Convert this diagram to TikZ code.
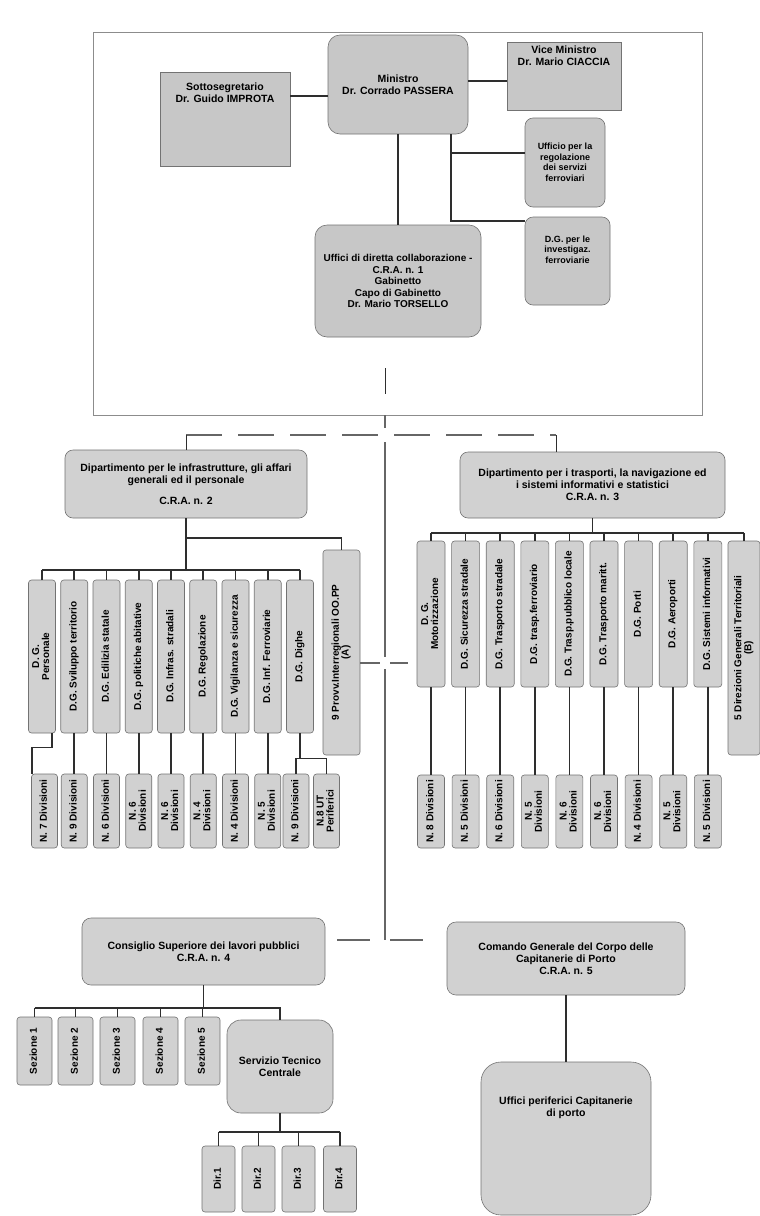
\documentclass[tikz,border=0pt]{standalone}
\usepackage{fontspec}
\setmainfont{Liberation Sans}
\usepackage{graphicx}
\usetikzlibrary{positioning}
\definecolor{boxgray}{gray}{0.82}
\definecolor{topgray}{gray}{0.78}
\definecolor{edgegray}{gray}{0.45}
\definecolor{linegray}{gray}{0.18}
\newcommand{\vt}[1]{\rotatebox{90}{\renewcommand{\arraystretch}{0.85}\begin{tabular}{@{}c@{}}#1\end{tabular}}}

\begin{document}
\begin{tikzpicture}[x=1pt, y=-1pt,
    every node/.style={font=\bfseries\fontsize{10.5}{12}\selectfont, align=center, inner sep=1pt},
    smalltxt/.style={font=\bfseries\fontsize{9}{10.5}\selectfont},
    vtxt/.style={font=\bfseries\fontsize{10}{10.5}\selectfont},
    box/.style={draw=edgegray, fill=boxgray, line width=0.6pt},
    sqbox/.style={box, fill=topgray},
    rbox/.style={box, rounded corners=3pt},
    bigbox/.style={box, rounded corners=#1},
    wh/.style 2 args={minimum width=#1, minimum height=#2},
    link/.style={draw=linegray, line width=1.6pt},
    tick/.style={draw=linegray, line width=0.8pt},
    gapline/.style={draw=black!60, line width=1.1pt}]
  \useasboundingbox (0,0) rectangle (760,1216);
  \fill[white] (0,0) rectangle (760,1216);

  % ministero
  \node[draw=black!45, line width=0.5pt, wh={609}{383}] (frame) at (397.5,223.5) {};
  \node[bigbox=12pt, fill=topgray, wh={140}{99}] (mini) at (398,84.5) {Ministro\\Dr. Corrado PASSERA};
  \node[sqbox, wh={130}{94}] (sotto) at (225,119) {};
  \node[below=10pt of sotto.north] (sotto-t) {Sottosegretario\\Dr. Guido IMPROTA};
  \node[sqbox, wh={114}{68}] (vice) at (564,76) {};
  \node[below=3pt of vice.north] (vice-t) {Vice Ministro\\Dr. Mario CIACCIA};
  \node[bigbox=8pt, fill=topgray, wh={80}{89}, smalltxt] (uff) at (565,162.5) {Ufficio per la\\regolazione\\dei servizi\\ferroviari};
  \node[bigbox=8pt, fill=topgray, wh={85}{88}] (inv) at (567.5,261) {};
  \node[below=18pt of inv.north, smalltxt] (inv-t) {D.G. per le\\investigaz.\\ferroviarie};
  \node[bigbox=12pt, fill=topgray, wh={166}{112}, font=\bfseries\fontsize{10}{11.5}\selectfont] (udc) at (398,281) {Uffici di diretta collaborazione -\\C.R.A. n. 1\\Gabinetto\\Capo di Gabinetto\\Dr. Mario TORSELLO};

  \draw[link] (sotto.east |- 0,96) -- (mini.west |- 0,96);
  \draw[link] (mini.east |- 0,81) -- (vice.west |- 0,81);
  \draw[link] (mini.south) -- (udc.north);
  \coordinate (mj) at (mini.south -| 451,0);
  \draw[link] (mj) |- ([yshift=-4pt]inv.north west);
  \draw[link] (mj |- 0,153) -- (uff.west |- 0,153);
  \draw[tick] (385,368) -- (385,394);

  % dipartimenti
  \node[bigbox=8pt, wh={242}{68}] (dinf) at (186,484) {Dipartimento per le infrastrutture, gli affari\\generali ed il personale\\[9pt]C.R.A. n. 2};
  \node[bigbox=8pt, wh={265}{66}] (dtra) at (592.5,485) {Dipartimento per i trasporti, la navigazione ed\\i sistemi informativi e statistici\\C.R.A. n. 3};

  \coordinate (dl) at (dinf.north |- 0,435);
  \coordinate (dr) at (556,435);
  \draw[gapline, dash pattern=on 36pt off 16pt] (dl) -- (dr);
  \draw[tick] (dl) -- (dinf.north);
  \draw[tick] (dr) -- (dr |- dtra.north);
  \coordinate (vc) at (frame.south -| 385,0);
  \draw[gapline] (vc) -- (385,428) (385,442) -- (385,657) (385,669) -- (385,940);

  % direzioni generali, C.R.A. n. 2
  \node[rbox, vtxt, wh={37}{205}] (prov) at (341.5,652.5) {\vt{9 Provv.Interregionali OO.PP\\(A)}};
  \foreach \i/\t in {1/{D. G.\\Personale}, 2/{D.G. Sviluppo territorio}, 3/{D.G. Edilizia statale},
      4/{D.G. politiche abitative}, 5/{D.G. Infras. stradali}, 6/{D.G. Regolazione},
      7/{D.G. Vigilanza e sicurezza}, 8/{D.G. Inf. Ferroviarie}, 9/{D.G. Dighe}}{
    \pgfmathsetmacro\cx{42+32.25*(\i-1)}
    \node[rbox, vtxt, wh={27}{153}] (lg\i) at (\cx,656.5) {\vt{\t}};
    \draw[link] (lg\i.north) -- ++(0,-10);
  }
  \draw[link] (dinf.south) -- (186,570);
  \draw[link] (lg1.north |- 0,570) -- (lg9.north |- 0,570);
  \draw[link] (186,538) -| (prov.north);
  \draw[gapline, dash pattern=on 20pt off 10pt] (prov.east |- 0,663) -- (408,663);

  \foreach \i/\cx/\t in {1/44.5/{N. 7 Divisioni}, 2/74.25/{N. 9 Divisioni}, 3/106.5/{N. 6 Divisioni},
      4/138.75/{N. 6\\Divisioni}, 5/171/{N. 6\\Divisioni}, 6/203.25/{N. 4\\Divisioni},
      7/235.5/{N. 4 Divisioni}, 8/267.75/{N. 5\\Divisioni}, 9/296/{N. 9 Divisioni}, 10/326.5/{N.8 UT\\Periferici}}{
    \node[rbox, vtxt, wh={26}{74}] (ld\i) at (\cx,811) {\vt{\t}};
  }
  \foreach \i in {2,...,8} \draw[link] (lg\i.south) -- (ld\i.north);
  \draw[link] ([xshift=-4pt]lg1.south east) -- ++(0,14) -| ([xshift=0.5pt]ld1.north west);
  \draw[link] (lg9.south) -- ++(0,25) coordinate (dj);
  \draw[link] (ld9.north) |- (dj) -| (ld10.north);

  % direzioni generali, C.R.A. n. 3
  \foreach \i/\t in {1/{D. G.\\Motorizzazione}, 2/{D.G. Sicurezza stradale}, 3/{D.G. Trasporto stradale},
      4/{D.G. trasp.ferroviario}, 5/{D.G. Trasp.pubblico locale}, 6/{D.G. Trasporto maritt.},
      7/{D.G. Porti}, 8/{D.G. Aeroporti}, 9/{D.G. Sistemi informativi}}{
    \pgfmathsetmacro\cx{431+34.6*(\i-1)}
    \node[rbox, vtxt, wh={28}{146}] (rg\i) at (\cx,614) {\vt{\t}};
    \draw[link] (rg\i.north) -- ++(0,-8);
  }
  \node[rbox, vtxt, wh={32}{214}] (rg10) at (744,648) {\vt{5 Direzioni Generali Territoriali\\(B)}};
  \draw[link] (rg10.north) -- ++(0,-8);
  \draw[link] (dtra.south) -- (dtra.south |- 0,533);
  \draw[link] (rg1.north |- 0,533) -- (rg10.north |- 0,533);

  \foreach \i/\t in {1/{N. 8 Divisioni}, 2/{N. 5 Divisioni}, 3/{N. 6 Divisioni}, 4/{N. 5\\Divisioni},
      5/{N. 6\\Divisioni}, 6/{N. 6\\Divisioni}, 7/{N. 4 Divisioni}, 8/{N. 5\\Divisioni}, 9/{N. 5 Divisioni}}{
    \node[rbox, vtxt, wh={27}{73}] (rd\i) at (rg\i.south |- 0,811.5) {\vt{\t}};
    \draw[link] (rg\i.south) -- (rd\i.north);
  }

  % C.R.A. n. 4 e n. 5
  \node[bigbox=9pt, wh={243}{67}] (cons) at (203.5,951.5) {Consiglio Superiore dei lavori pubblici\\C.R.A. n. 4};
  \node[bigbox=9pt, wh={238}{73}] (coma) at (566,958.5) {Comando Generale del Corpo delle\\Capitanerie di Porto\\C.R.A. n. 5};
  \node[bigbox=20pt, wh={170}{153}] (uper) at (566,1138.5) {};
  \node[below=34pt of uper.north] (uper-t) {Uffici periferici Capitanerie\\di porto};
  \draw[link] (coma.south) -- (uper.north);
  \draw[gapline, dash pattern=on 33pt off 20pt] (337,940) -- (423,940);

  \foreach \i/\cx in {1/34.5, 2/75.5, 3/117.5, 4/160.5, 5/202.5}{
    \node[rbox, vtxt, wh={35}{68}] (sez\i) at (\cx,1051) {\vt{Sezione \i}};
    \draw[link] (sez\i.north) -- ++(0,-9);
  }
  \node[bigbox=14pt, wh={106}{93}] (stc) at (280,1066.5) {Servizio Tecnico\\Centrale};
  \draw[link] (cons.south) -- (cons.south |- 0,1008);
  \draw[link] (sez1.north |- 0,1008) -- (stc.north |- 0,1008) -- (stc.north);

  \foreach \i/\cx in {1/218.5, 2/258.5, 3/298.5, 4/340}{
    \node[rbox, vtxt, wh={33}{66}] (dir\i) at (\cx,1179) {\vt{Dir.\i}};
    \draw[link] (dir\i.north) -- ++(0,-14);
  }
  \draw[link] (stc.south) -- (stc.south |- 0,1132);
  \draw[link] (dir1.north |- 0,1132) -- (dir4.north |- 0,1132);
\end{tikzpicture}
\end{document}
